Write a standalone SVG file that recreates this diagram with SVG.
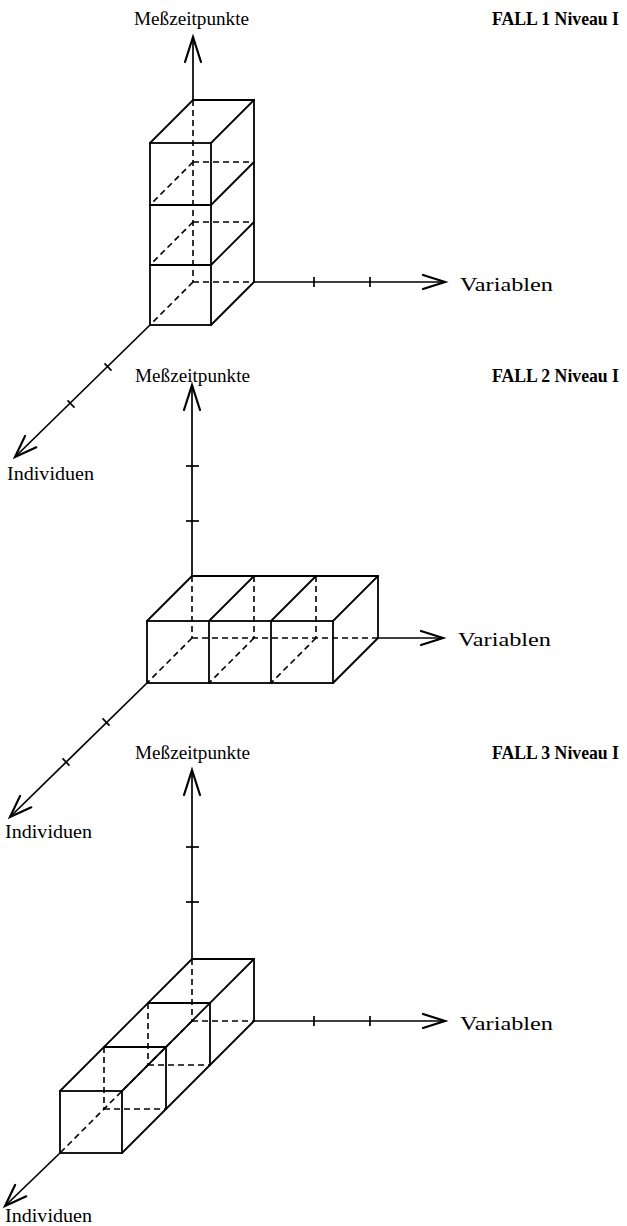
<svg xmlns="http://www.w3.org/2000/svg" width="627" height="1226" viewBox="0 0 627 1226">
  <style>
    .s { stroke: #000; stroke-width: 1.8; fill: none; stroke-linecap: round; }
    .d { stroke: #000; stroke-width: 1.6; fill: none; stroke-dasharray: 6 4; }
    .ax { stroke: #000; stroke-width: 1.7; fill: none; }
    .hd { stroke: #000; stroke-width: 2.2; fill: none; stroke-linecap: round; stroke-linejoin: miter; }
    .lbl { font-family: "Liberation Serif", "Times New Roman", serif; font-size: 19px; fill: #000; }
    .ttl { font-family: "Liberation Serif", "Times New Roman", serif; font-size: 19px; font-weight: bold; fill: #000; }
  </style>

  <!-- ===== Case 1: stack of three cells along the time axis ===== -->
  <g id="fall1">
    <g id="fall1-axes">
      <line class="ax" x1="193" y1="37" x2="193" y2="100"/>
      <polyline class="hd" points="185,62 193,37 201,62"/>
      <line class="ax" x1="254" y1="282" x2="445" y2="282"/>
      <polyline class="hd" points="423,275 445,282 423,289"/>
      <line class="ax" x1="314" y1="277" x2="314" y2="287"/>
      <line class="ax" x1="370" y1="277" x2="370" y2="287"/>
      <line class="ax" x1="150" y1="325" x2="15" y2="457"/>
      <polyline class="hd" points="36.3,447.3 15,457 25.1,435.9"/>
      <line class="ax" x1="104.5" y1="363.4" x2="111.5" y2="370.6"/>
      <line class="ax" x1="67.5" y1="400.4" x2="74.5" y2="407.6"/>
    </g>
    <g id="fall1-cells">
      <!-- visible edges -->
      <line class="s" x1="193" y1="100" x2="254" y2="100"/>
      <line class="s" x1="254" y1="100" x2="254" y2="282"/>
      <line class="s" x1="193" y1="100" x2="150" y2="143"/>
      <line class="s" x1="254" y1="100" x2="211" y2="143"/>
      <line class="s" x1="254" y1="162" x2="211" y2="205"/>
      <line class="s" x1="254" y1="222" x2="211" y2="265"/>
      <line class="s" x1="254" y1="282" x2="211" y2="325"/>
      <rect class="s" x="150" y="143" width="61" height="182"/>
      <line class="s" x1="150" y1="205" x2="211" y2="205"/>
      <line class="s" x1="150" y1="265" x2="211" y2="265"/>
      <!-- hidden edges -->
      <line class="d" x1="193" y1="100" x2="193" y2="282"/>
      <line class="d" x1="193" y1="162" x2="254" y2="162"/>
      <line class="d" x1="193" y1="222" x2="254" y2="222"/>
      <line class="d" x1="193" y1="282" x2="254" y2="282"/>
      <line class="d" x1="193" y1="162" x2="150" y2="205"/>
      <line class="d" x1="193" y1="222" x2="150" y2="265"/>
      <line class="d" x1="193" y1="282" x2="150" y2="325"/>
    </g>
    <text class="lbl" x="134" y="25" textLength="115" lengthAdjust="spacingAndGlyphs">Meßzeitpunkte</text>
    <text class="ttl" x="492" y="25" textLength="127" lengthAdjust="spacingAndGlyphs">FALL 1 Niveau I</text>
    <text class="lbl" x="460" y="291" textLength="93" lengthAdjust="spacingAndGlyphs">Variablen</text>
    <text class="lbl" x="7" y="480" textLength="87" lengthAdjust="spacingAndGlyphs">Individuen</text>
  </g>

  <!-- ===== Case 2: row of three cells along the variables axis ===== -->
  <g id="fall2">
    <g id="fall2-axes">
      <line class="ax" x1="192" y1="385" x2="192" y2="576"/>
      <polyline class="hd" points="184,410 192,385 200,410"/>
      <line class="ax" x1="186" y1="466" x2="199" y2="466"/>
      <line class="ax" x1="186" y1="521" x2="199" y2="521"/>
      <line class="ax" x1="378" y1="638" x2="443" y2="638"/>
      <polyline class="hd" points="421,631 443,638 421,645"/>
      <line class="ax" x1="147" y1="683" x2="10" y2="817"/>
      <polyline class="hd" points="31.3,807.3 10,817 20.1,795.9"/>
      <line class="ax" x1="102.5" y1="718.4" x2="109.5" y2="725.6"/>
      <line class="ax" x1="62.5" y1="758.4" x2="69.5" y2="765.6"/>
    </g>
    <g id="fall2-cells">
      <!-- visible edges -->
      <line class="s" x1="192" y1="576" x2="378" y2="576"/>
      <line class="s" x1="378" y1="576" x2="378" y2="638"/>
      <line class="s" x1="192" y1="576" x2="147" y2="621"/>
      <line class="s" x1="254" y1="576" x2="209" y2="621"/>
      <line class="s" x1="316" y1="576" x2="271" y2="621"/>
      <line class="s" x1="378" y1="576" x2="333" y2="621"/>
      <line class="s" x1="378" y1="638" x2="333" y2="683"/>
      <rect class="s" x="147" y="621" width="186" height="62"/>
      <line class="s" x1="209" y1="621" x2="209" y2="683"/>
      <line class="s" x1="271" y1="621" x2="271" y2="683"/>
      <!-- hidden edges -->
      <line class="d" x1="192" y1="576" x2="192" y2="638"/>
      <line class="d" x1="254" y1="576" x2="254" y2="638"/>
      <line class="d" x1="316" y1="576" x2="316" y2="638"/>
      <line class="d" x1="192" y1="638" x2="378" y2="638"/>
      <line class="d" x1="192" y1="638" x2="147" y2="683"/>
      <line class="d" x1="254" y1="638" x2="209" y2="683"/>
      <line class="d" x1="316" y1="638" x2="271" y2="683"/>
    </g>
    <text class="lbl" x="135" y="382" textLength="115" lengthAdjust="spacingAndGlyphs">Meßzeitpunkte</text>
    <text class="ttl" x="492" y="382" textLength="127" lengthAdjust="spacingAndGlyphs">FALL 2 Niveau I</text>
    <text class="lbl" x="458" y="646" textLength="93" lengthAdjust="spacingAndGlyphs">Variablen</text>
    <text class="lbl" x="5" y="838" textLength="87" lengthAdjust="spacingAndGlyphs">Individuen</text>
  </g>

  <!-- ===== Case 3: three cells along the individuals axis ===== -->
  <g id="fall3">
    <g id="fall3-axes">
      <line class="ax" x1="192" y1="770" x2="192" y2="959"/>
      <polyline class="hd" points="184,795 192,770 200,795"/>
      <line class="ax" x1="186" y1="847" x2="199" y2="847"/>
      <line class="ax" x1="186" y1="902" x2="199" y2="902"/>
      <line class="ax" x1="254" y1="1021" x2="445" y2="1021"/>
      <polyline class="hd" points="423,1014 445,1021 423,1028"/>
      <line class="ax" x1="314" y1="1016" x2="314" y2="1026"/>
      <line class="ax" x1="370" y1="1016" x2="370" y2="1026"/>
      <line class="ax" x1="60" y1="1153" x2="5" y2="1206"/>
      <polyline class="hd" points="26.3,1196.3 5,1206 15.1,1184.9"/>
    </g>
    <g id="fall3-cells">
      <!-- visible edges -->
      <line class="s" x1="192" y1="959" x2="254" y2="959"/>
      <line class="s" x1="254" y1="959" x2="254" y2="1021"/>
      <line class="s" x1="192" y1="959" x2="60" y2="1091"/>
      <line class="s" x1="254" y1="959" x2="122" y2="1091" stroke-width="2.2"/>
      <line class="s" x1="254" y1="1021" x2="122" y2="1153"/>
      <rect class="s" x="60" y="1091" width="62" height="62"/>
      <line class="s" x1="104" y1="1047" x2="166" y2="1047"/>
      <line class="s" x1="148" y1="1003" x2="210" y2="1003"/>
      <line class="s" x1="166" y1="1047" x2="166" y2="1109"/>
      <line class="s" x1="210" y1="1003" x2="210" y2="1065"/>
      <!-- hidden edges -->
      <line class="d" x1="192" y1="959" x2="192" y2="1021"/>
      <line class="d" x1="192" y1="1021" x2="254" y2="1021"/>
      <line class="d" x1="192" y1="1021" x2="60" y2="1153"/>
      <line class="d" x1="104" y1="1047" x2="104" y2="1109"/>
      <line class="d" x1="148" y1="1003" x2="148" y2="1065"/>
      <line class="d" x1="104" y1="1109" x2="166" y2="1109"/>
      <line class="d" x1="148" y1="1065" x2="210" y2="1065"/>
    </g>
    <text class="lbl" x="135" y="759" textLength="115" lengthAdjust="spacingAndGlyphs">Meßzeitpunkte</text>
    <text class="ttl" x="492" y="759" textLength="127" lengthAdjust="spacingAndGlyphs">FALL 3 Niveau I</text>
    <text class="lbl" x="460" y="1030" textLength="93" lengthAdjust="spacingAndGlyphs">Variablen</text>
    <text class="lbl" x="5" y="1222" textLength="87" lengthAdjust="spacingAndGlyphs">Individuen</text>
  </g>
</svg>
